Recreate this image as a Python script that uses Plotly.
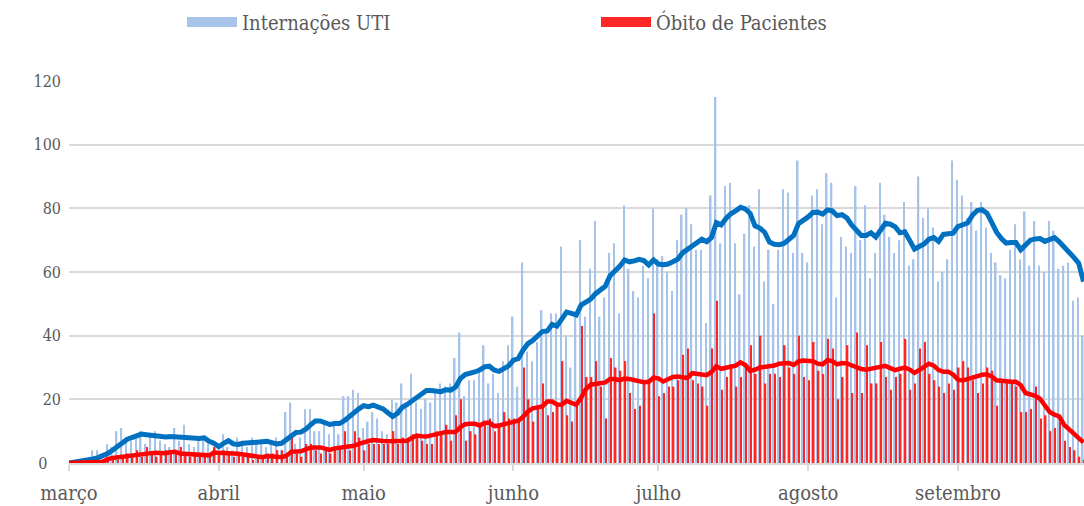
import pandas as pd
import plotly.graph_objects as go

# ---------------- data ----------------
start_date = "2020-03-01"
n_days = 211

uti_daily = [
    0, 0, 1, 0, 1, 4, 4, 2, 6, 5, 10, 11, 8, 7, 8, 10, 6, 9, 10, 7, 6, 5, 11, 7, 12, 6, 5, 7, 8, 6, 4, 3, 9, 5, 4, 8, 7, 5, 8, 6, 7, 5,
    7, 8, 4, 16, 19, 6, 8, 17, 17, 10, 10, 13, 9, 12, 9, 21, 21, 23, 22, 11, 13, 16, 14, 10, 9, 20, 19, 25, 18, 28, 19, 17, 20, 19, 23, 25, 24, 25, 33, 41, 21, 26,
    26, 30, 37, 25, 28, 22, 32, 37, 46, 24, 63, 35, 32, 38, 48, 42, 47, 47, 68, 40, 30, 46, 70, 46, 61, 76, 46, 52, 66, 69, 47, 81, 61, 54, 52, 62, 58, 80, 64, 65, 60, 54,
    70, 78, 80, 75, 67, 67, 44, 84, 115, 69, 87, 88, 69, 53, 72, 81, 68, 86, 57, 67, 50, 67, 86, 85, 66, 95, 66, 63, 84, 86, 75, 91, 88, 52, 71, 68, 66, 87, 70, 81, 58, 66,
    88, 78, 71, 66, 70, 82, 62, 64, 90, 77, 80, 74, 57, 60, 64, 95, 89, 84, 77, 82, 73, 82, 74, 66, 63, 59, 58, 67, 75, 64, 79, 62, 76, 62, 60, 76, 73, 61, 62, 63, 51, 52, 40,
]

obitos_daily = [
    0, 0, 0, 0, 0, 0, 0, 1, 1, 2, 1, 2, 3, 2, 4, 2, 5, 3, 2, 3, 4, 3, 4, 5, 3, 2, 3, 2, 3, 2, 5, 3, 4, 3, 2, 3, 2, 3, 1, 2, 2, 3,
    3, 4, 4, 2, 8, 3, 2, 6, 6, 4, 3, 4, 3, 5, 5, 10, 4, 10, 8, 4, 6, 6, 6, 6, 6, 10, 6, 8, 7, 9, 8, 7, 6, 6, 10, 10, 12, 7, 15, 20, 7, 10,
    9, 12, 13, 14, 10, 12, 16, 14, 14, 13, 30, 20, 13, 18, 25, 15, 16, 19, 32, 15, 13, 18, 43, 27, 27, 32, 24, 14, 33, 30, 29, 32, 22, 17, 18, 25, 26, 47, 21, 22, 24, 24,
    26, 34, 36, 26, 25, 24, 18, 36, 51, 23, 27, 31, 24, 27, 31, 37, 28, 40, 25, 28, 28, 27, 37, 30, 28, 40, 27, 26, 38, 29, 28, 39, 36, 20, 27, 37, 22, 41, 22, 37, 25, 25,
    38, 27, 23, 27, 28, 39, 23, 25, 36, 38, 28, 26, 24, 22, 25, 23, 30, 32, 30, 26, 22, 25, 30, 29, 18, 26, 26, 25, 24, 16, 16, 17, 24, 14, 15, 10, 11, 13, 7, 5, 4, 2, 1,
]

uti_media = [
    0, 0.2, 0.4, 0.6, 0.9, 1.3, 1.7, 2.3, 3.0, 4.0,
    5.3, 6.6, 7.4, 8.0, 8.6, 9.1, 8.9, 8.7, 8.5, 8.4,
    8.2, 8.3, 8.2, 8.0, 8.2, 8.0, 7.8, 7.7, 7.9, 6.8,
    6.2, 5.1, 6.2, 7.0, 6.0, 5.8, 6.2, 6.4, 6.4, 6.6,
    6.9, 6.8, 6.4, 6.0, 6.2, 7.5, 8.8, 9.6, 9.7, 10.6,
    12.0, 13.2, 13.2, 12.7, 12.1, 12.4, 12.4, 13.3, 14.7, 15.8,
    17.0, 18.0, 17.7, 18.2, 17.8, 17.0, 15.8, 14.6, 15.6, 17.5,
    18.4, 19.5, 20.7, 22.0, 22.8, 22.8, 22.5, 22.4, 23.0, 22.9,
    23.8, 26.5, 27.8, 28.1, 28.6, 29.2, 30.2, 30.4, 29.2, 28.8,
    29.5, 30.5, 32.3, 32.8, 35.5, 37.5, 38.5, 39.8, 41.3, 41.5,
    43.5, 43.0, 45.5, 47.4, 47.0, 46.5, 49.6, 50.4, 51.5, 53.2,
    54.3, 55.5, 58.8, 60.2, 61.8, 63.8, 63.2, 63.5, 64.0, 63.6,
    62.2, 63.8, 62.5, 62.3, 62.5, 63.2, 64.0, 66.0, 67.2, 68.0,
    69.2, 70.3, 69.5, 70.8, 75.5, 74.8, 76.8, 78.3, 79.2, 80.3,
    79.8, 78.4, 74.5, 73.8, 72.5, 69.4, 68.7, 68.6, 69.0, 70.5,
    71.5, 75.2, 76.2, 77.3, 78.7, 78.8, 78.2, 79.5, 79.2, 77.7,
    78.0, 77.0, 74.8, 73.2, 71.5, 71.5, 72.3, 71.0, 73.0, 75.3,
    75.0, 74.2, 72.3, 72.6, 70.0, 67.2, 68.0, 68.8, 70.3, 70.8,
    69.6, 71.8, 72.0, 72.2, 74.3, 75.0, 75.4, 77.8, 79.3, 79.6,
    78.5, 75.6, 72.5, 70.5, 69.1, 69.3, 69.3, 67.0, 68.6, 70.0,
    70.4, 70.5, 69.6, 70.2, 70.8, 69.5, 67.6, 66.2, 64.6, 62.8,
    57.0,
]

obitos_media = [
    0, 0, 0, 0.1, 0.1, 0.2, 0.3, 0.4, 1.2, 1.6,
    1.8, 2.0, 2.2, 2.4, 2.7, 3.0, 3.1, 3.1, 3.2, 3.0,
    3.1, 3.4, 3.5, 3.0, 2.9, 2.9, 2.8, 2.7, 2.6, 2.4,
    3.3, 3.3, 3.2, 3.2, 3.0, 2.9, 2.7, 2.5, 2.1, 1.9,
    1.8, 2.2, 2.0, 1.7, 1.8, 2.3, 3.5, 3.6, 3.7, 4.3,
    4.8, 4.9, 4.9, 4.5, 4.1, 4.6, 4.8, 4.9, 5.1, 5.4,
    6.0, 6.6, 6.9, 7.2, 7.2, 6.9, 6.8, 6.8, 6.8, 6.9,
    7.0, 7.9, 8.6, 8.4, 8.3, 8.7, 9.2, 9.4, 9.7, 9.6,
    9.7, 11.2, 12.2, 12.3, 12.3, 11.8, 12.6, 12.7, 11.6, 11.8,
    12.1, 12.4, 13.0, 13.3, 14.5, 16.2, 17.2, 17.5, 17.8, 19.3,
    19.3, 18.4, 18.3, 19.5, 19.0, 18.3, 20.5, 23.2, 24.6, 24.8,
    25.0, 25.3, 26.4, 26.4, 26.0, 26.5, 26.4, 26.1, 26.0, 25.4,
    25.5, 26.8, 26.6, 25.6, 26.3, 27.0, 27.2, 27.0, 26.7, 28.2,
    28.0, 27.8, 27.6, 28.6, 30.4, 29.6, 29.9, 30.3, 30.6, 31.6,
    30.8, 29.0, 29.3, 30.0, 30.2, 30.3, 30.6, 31.2, 31.3, 31.4,
    30.8, 31.9, 32.2, 32.1, 32.0, 31.2, 31.0, 32.3, 32.0, 31.0,
    31.4, 31.3, 30.7, 30.4, 29.5, 29.3, 29.6, 29.8, 30.2, 30.5,
    29.8, 29.2, 29.6, 30.0, 29.4, 28.3, 29.2, 30.4, 31.2, 30.6,
    29.2, 28.7, 28.7, 27.8, 26.2, 25.9, 26.4, 27.0, 27.4, 27.7,
    27.9, 27.2, 26.0, 25.8, 25.5, 25.5, 25.5, 24.5, 22.0, 21.6,
    21.1, 20.2, 18.0, 16.0, 15.2, 14.6, 12.0, 10.4, 9.2, 7.8,
    6.5,
]

month_ticks = ["2020-03-01", "2020-04-01", "2020-05-01", "2020-06-01",
               "2020-07-01", "2020-08-01", "2020-09-01"]
month_labels = ["março", "abril", "maio", "junho", "julho", "agosto", "setembro"]

y_ticks = [0, 20, 40, 60, 80, 100, 120]
y_labels = ["0\u00a0\u00a0\u00a0", "20", "40", "60", "80", "100", "120"]

# ---------------- figure ----------------
dates = pd.date_range(start_date, periods=n_days, freq="D")

FONT = "DejaVu Serif Condensed, DejaVu Serif, serif"
GREY = "#595959"
GRID = "#D9D9D9"
C_UTI_BAR = "#A6C3EA"
C_OBI_BAR = "#FF2626"
C_UTI_LINE = "#0070C0"
C_OBI_LINE = "#FF0000"

fig = go.Figure()
fig.add_trace(go.Bar(x=dates, y=uti_daily, marker=dict(color=C_UTI_BAR, line=dict(width=0)),
                     showlegend=False, name="Internações UTI"))
fig.add_trace(go.Bar(x=dates, y=obitos_daily, marker=dict(color=C_OBI_BAR, line=dict(width=0)),
                     showlegend=False, name="Óbito de Pacientes"))
fig.add_trace(go.Scatter(x=dates, y=uti_media, mode="lines",
                         line=dict(color=C_UTI_LINE, width=5), showlegend=False))
fig.add_trace(go.Scatter(x=dates, y=obitos_media, mode="lines",
                         line=dict(color=C_OBI_LINE, width=4.5), showlegend=False))

# legend entries
fig.add_trace(go.Scatter(x=[None], y=[None], mode="lines", name="Internações UTI",
                         line=dict(color=C_UTI_BAR, width=10), legend="legend"))
fig.add_trace(go.Scatter(x=[None], y=[None], mode="lines", name="Óbito de Pacientes",
                         line=dict(color=C_OBI_BAR, width=10), legend="legend2"))

legend_common = dict(orientation="h", xref="container", yref="container",
                     yanchor="middle", xanchor="left", bgcolor="rgba(0,0,0,0)",
                     itemwidth=50,
                     font=dict(family=FONT, size=20, color=GREY), borderwidth=0)

fig.update_layout(
    width=1084, height=506,
    margin=dict(l=69, r=0, t=81, b=43),
    paper_bgcolor="white", plot_bgcolor="white",
    barmode="group", bargap=0.36, bargroupgap=0,
    legend=dict(x=182 / 1084, y=1 - 22 / 506, **legend_common),
    legend2=dict(x=596 / 1084, y=1 - 22 / 506, **legend_common),
    font=dict(family=FONT, size=18, color=GREY),
)

fig.update_xaxes(
    type="date",
    range=["2020-03-01 00:00", "2020-09-27 02:30"],
    tickmode="array", tickvals=month_ticks, ticktext=month_labels,
    ticks="outside", ticklen=6, tickwidth=1.5, tickcolor=GRID,
    showline=True, linecolor=GRID, linewidth=1.5,
    showgrid=False, zeroline=False,
    tickfont=dict(family=FONT, size=20, color=GREY),
    ticklabelstandoff=5,
)
fig.update_yaxes(
    range=[0, 120], tickmode="array", tickvals=y_ticks, ticktext=y_labels,
    showgrid=True, gridcolor=GRID, gridwidth=1.5,
    zeroline=False, showline=False, ticks="",
    tickfont=dict(family=FONT, size=16, color=GREY),
    ticklabelstandoff=7,
)

fig.write_html(
    "out.html",
    config={"displayModeBar": False},
    post_script="document.body.style.margin='0';document.body.style.overflow='hidden';",
)
